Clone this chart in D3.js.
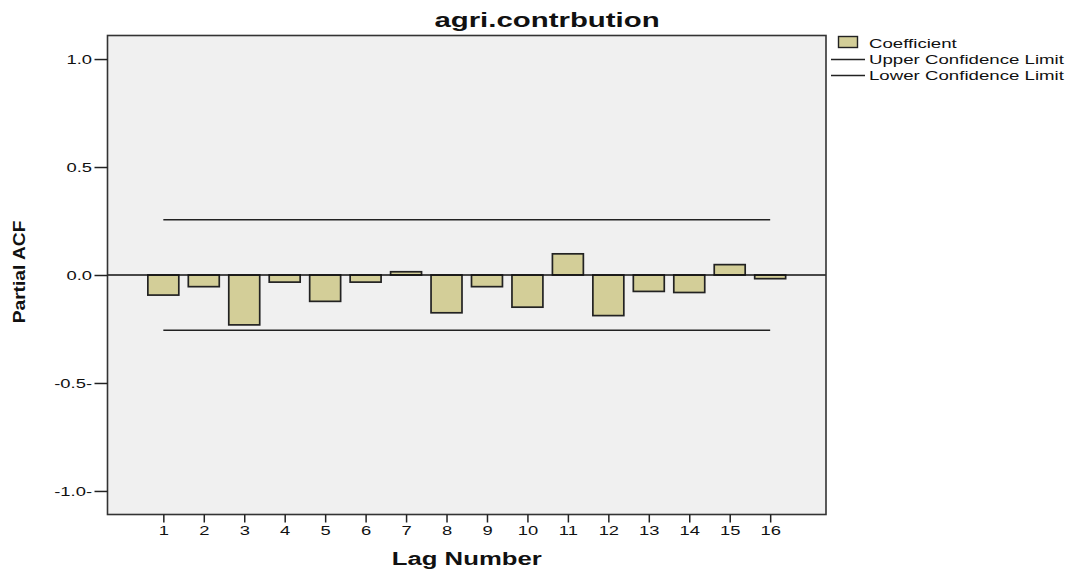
<!DOCTYPE html>
<html>
<head>
<meta charset="utf-8">
<script src="https://cdn.jsdelivr.net/npm/d3@7"></script>
<style>
  html, body { margin: 0; padding: 0; background: #fff; }
  svg { display: block; }
  text { font-family: "Liberation Sans", Arial, sans-serif; fill: #111; }
</style>
</head>
<body>
<svg id="chart" width="1076" height="572"></svg>
<script>
// ---- data ----
const chartTitle = "agri.contrbution";
const lags = [1, 2, 3, 4, 5, 6, 7, 8, 9, 10, 11, 12, 13, 14, 15, 16];
const coefficients = [-0.093, -0.054, -0.231, -0.033, -0.122, -0.033, 0.015, -0.175,
                      -0.054, -0.149, 0.098, -0.188, -0.076, -0.081, 0.048, -0.017];
const upperConfidenceLimit = 0.256;
const lowerConfidenceLimit = -0.256;
const yTickValues = [1.0, 0.5, 0.0, -0.5, -1.0];
const yTickLabels = ["1.0", "0.5", "0.0", "-0.5-", "-1.0-"];
const legendLabels = ["Coefficient", "Upper Confidence Limit", "Lower Confidence Limit"];

// ---- layout ----
const S = 1.47; // horizontal text stretch seen in the reference
const plot = { left: 107.5, right: 826, top: 35.5, bottom: 514.5 };
const barFill = "#d3ce98";
const ink = "#222";

const svg = d3.select("#chart");

const x = d3.scaleLinear().domain([-0.38, 17.38]).range([plot.left, plot.right]);
const y = d3.scaleLinear().domain([-1.109, 1.109]).range([plot.bottom, plot.top]);

// plot background + frame
svg.append("rect")
  .attr("x", plot.left).attr("y", plot.top)
  .attr("width", plot.right - plot.left).attr("height", plot.bottom - plot.top)
  .attr("fill", "#f0f0f0");

// confidence limits
const limitLine = d3.line().x(d => x(d[0])).y(d => y(d[1]));
[upperConfidenceLimit, lowerConfidenceLimit].forEach(v => {
  svg.append("path")
    .attr("d", limitLine([[lags[0], v], [lags[lags.length - 1], v]]))
    .attr("stroke", ink).attr("stroke-width", 1.6).attr("fill", "none");
});

// bars
const bw = (x(2) - x(1)) * 0.765;
svg.append("g").selectAll("rect").data(lags).join("rect")
  .attr("x", d => x(d) - bw / 2)
  .attr("y", (d, i) => y(Math.max(0, coefficients[i])))
  .attr("width", bw)
  .attr("height", (d, i) => Math.abs(y(coefficients[i]) - y(0)))
  .attr("fill", barFill)
  .attr("stroke", ink)
  .attr("stroke-width", 1.7);

// zero line
svg.append("line")
  .attr("x1", plot.left).attr("x2", plot.right)
  .attr("y1", y(0)).attr("y2", y(0))
  .attr("stroke", "#111").attr("stroke-width", 1.3);

// frame
svg.append("rect")
  .attr("x", plot.left).attr("y", plot.top)
  .attr("width", plot.right - plot.left).attr("height", plot.bottom - plot.top)
  .attr("fill", "none").attr("stroke", "#333").attr("stroke-width", 1.6);

// y axis
const yAxis = d3.axisLeft(y)
  .tickValues(yTickValues)
  .tickSize(13)
  .tickPadding(2)
  .tickFormat((d, i) => yTickLabels[i]);
const gy = svg.append("g").attr("transform", `translate(${plot.left},0)`).call(yAxis);
gy.select(".domain").remove();
gy.selectAll(".tick line").attr("stroke", "#222").attr("stroke-width", 1.5);
gy.selectAll(".tick text")
  .attr("x", null)
  .attr("dy", "0.36em")
  .attr("transform", `translate(-15.5,0) scale(${S},1)`)
  .style("font-size", "12.5px")
  .style("font-family", "'Liberation Sans', Arial, sans-serif")
  .attr("fill", "#111");

// x axis
const xAxis = d3.axisBottom(x).tickValues(lags).tickSize(8).tickPadding(4);
const gx = svg.append("g").attr("transform", `translate(0,${plot.bottom})`).call(xAxis);
gx.select(".domain").remove();
gx.selectAll(".tick line").attr("stroke", "#222").attr("stroke-width", 1.5);
gx.selectAll(".tick text")
  .attr("y", null)
  .attr("transform", `translate(0,12) scale(${S},1)`)
  .style("font-size", "12.5px")
  .style("font-family", "'Liberation Sans', Arial, sans-serif")
  .attr("fill", "#111");

// title
svg.append("text")
  .attr("transform", `translate(547,26.5) scale(${S},1)`)
  .attr("text-anchor", "middle")
  .style("font-size", "20px").style("font-weight", "bold")
  .text(chartTitle);

// axis titles
svg.append("text")
  .attr("transform", `translate(${(plot.left + plot.right) / 2},565) scale(${S},1)`)
  .attr("text-anchor", "middle")
  .style("font-size", "17.5px").style("font-weight", "bold")
  .text("Lag Number");

svg.append("text")
  .attr("transform", "translate(24.5,272) rotate(-90) scale(1.2,1)")
  .attr("text-anchor", "middle")
  .style("font-size", "16px").style("font-weight", "bold")
  .text("Partial ACF");

// legend
const lg = svg.append("g");
lg.append("rect").attr("x", 838.5).attr("y", 36.5).attr("width", 19).attr("height", 11)
  .attr("fill", barFill).attr("stroke", ink).attr("stroke-width", 1.4);
[59.5, 75.5].forEach(yy => {
  lg.append("line").attr("x1", 831).attr("x2", 865).attr("y1", yy).attr("y2", yy)
    .attr("stroke", ink).attr("stroke-width", 1.4);
});
[48, 64, 80].forEach((yy, i) => {
  lg.append("text")
    .attr("transform", `translate(869,${yy}) scale(${S},1)`)
    .style("font-size", "12.7px")
    .text(legendLabels[i]);
});
</script>
</body>
</html>
